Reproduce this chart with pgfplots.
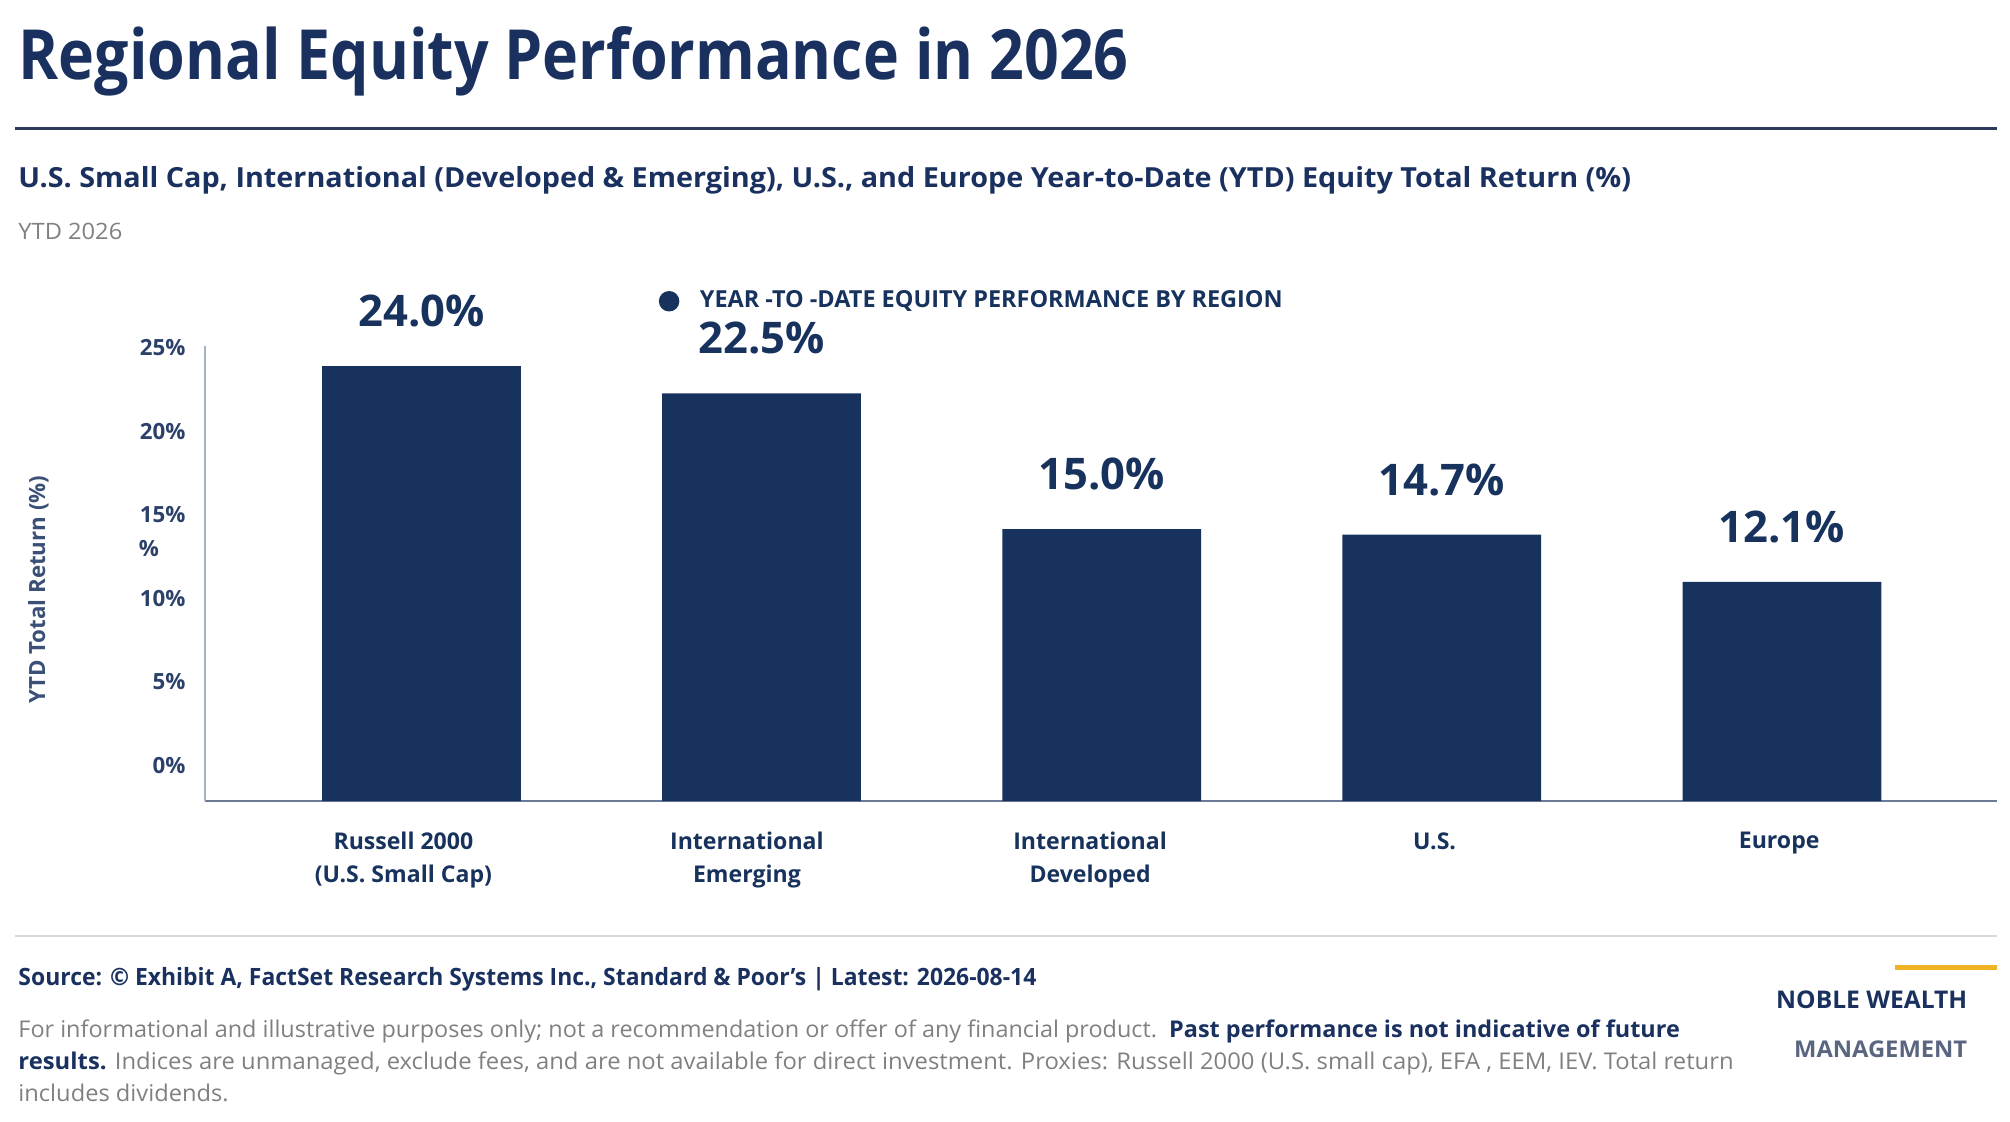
\documentclass[border=0pt]{standalone}
\usepackage{pgfplots}
\pgfplotsset{compat=1.18}
\usepackage{fontspec}
\usepackage{graphicx}
\setmainfont{Open Sans}
\definecolor{navy}{HTML}{17325C}
\definecolor{titlec}{HTML}{1A3160}
\definecolor{ticklab}{HTML}{2C416A}
\definecolor{ylabc}{HTML}{3A5077}
\definecolor{axisx}{HTML}{6B7A95}
\definecolor{axisy}{HTML}{A5B0C2}
\definecolor{grayt}{HTML}{808080}
\definecolor{rulec}{HTML}{2B3A5A}
\definecolor{footrule}{HTML}{D6D9DF}
\definecolor{gold}{HTML}{F0B323}
\definecolor{mgmt}{HTML}{5A6680}
\begin{document}
\begin{tikzpicture}
\path[use as bounding box] (0,0) rectangle (784pt,437.5pt);
\begin{axis}[
  at={(80pt,125pt)}, anchor=south west,
  scale only axis, width=699pt, height=177.5pt,
  xmin=-0.636, xmax=4.633, ymin=0, ymax=25.1,
  clip=false,
  axis x line*=bottom, axis y line*=left,
  x axis line style={-, draw=axisx, line width=1pt},
  y axis line style={-, draw=axisy, line width=1pt},
  major tick length=0pt,
  /pgf/number format/assume math mode=true,
  ytick={1.98,6.58,11.18,15.79,20.39,25.0},
  yticklabels={0\%,5\%,10\%,15\%,20\%,25\%},
  yticklabel style={anchor=east, inner sep=0pt, xshift=-7.5pt, font=\bfseries\fontsize{8.7}{10}\selectfont, text=ticklab},
  xtick={-0.053,0.957,1.966,2.979,3.992},
  xticklabels={{Russell 2000\\(U.S. Small Cap)},{International\\Emerging},{International\\Developed},{U.S.},{Europe}},
  xticklabel style={anchor=north, align=center, inner sep=0pt, yshift=-12pt, font=\bfseries\fontsize{9}{12.5}\selectfont, text=navy},
  ylabel={YTD Total Return (\%)},
  ylabel style={at={(axis description cs:-0.093,0.465)}, anchor=center, font=\bfseries\fontsize{8.7}{10}\selectfont, text=ylabc},
  bar width=77.5pt,
  nodes near coords={\pgfmathprintnumber[fixed,fixed zerofill,precision=1]{\pgfplotspointmeta}\%},
  nodes near coords style={anchor=center, yshift=21.5pt, font=\bfseries\fontsize{17}{20}\selectfont, text=navy},
  legend style={at={(rel axis cs:0.2532,1.0986)}, anchor=west, draw=none, fill=none, inner sep=0pt, outer sep=0pt,
     nodes={inner sep=0pt}, font=\bfseries\fontsize{9.15}{11}\selectfont, text=navy,
     /tikz/every odd column/.append style={column sep=8pt}},
  legend image code/.code={\fill[navy] (4pt,0pt) circle (4pt);},
]
\addplot[ybar, fill=navy, draw=none] coordinates {(0,24.0) (1,22.5) (2,15.0) (3,14.7) (4,12.1)};
\addlegendentry{YEAR -TO -DATE EQUITY PERFORMANCE BY REGION}
\end{axis}
\begin{scope}[x=0.5pt,y=-0.5pt,yshift=437.5pt]
\node[anchor=base west, inner sep=0pt, text=titlec] at (14,62) {\resizebox{433pt}{\height}{\bfseries\fontsize{27}{30}\selectfont Regional Equity Performance in 2026}};
\draw[rulec, line width=1.1pt] (12,100) -- (1558,100);
\node[anchor=base west, inner sep=0pt, text=titlec] at (14,146) {\resizebox{629pt}{\height}{\bfseries\fontsize{10.8}{12}\selectfont U.S. Small Cap, International (Developed \& Emerging), U.S., and Europe Year-to-Date (YTD) Equity Total Return (\%)}};
\node[anchor=base west, inner sep=0pt, text=grayt] at (14,187) {\resizebox{40.5pt}{\height}{\fontsize{8.8}{10}\selectfont YTD 2026}};
\node[anchor=west, inner sep=0pt, text=ticklab] at (108,428) {\bfseries\fontsize{8.7}{10}\selectfont \%};
\draw[footrule, line width=1pt] (12,730) -- (1558,730);
\node[anchor=base west, inner sep=0pt, text=titlec] at (14,769) {\resizebox{397pt}{\height}{\bfseries\fontsize{9.3}{11}\selectfont Source: © Exhibit A, FactSet Research Systems Inc., Standard \& Poor's | Latest: 2026-08-14}};
\node[anchor=base west, inner sep=0pt] at (14,809) {\resizebox{648pt}{\height}{\fontsize{9}{11}\selectfont\color{grayt}For informational and illustrative purposes only; not a recommendation or offer of any financial product.\ \ \color{titlec}\bfseries Past performance is not indicative of future}};
\node[anchor=base west, inner sep=0pt] at (14,834) {\resizebox{669pt}{\height}{\fontsize{9}{11}\selectfont{\color{titlec}\bfseries results.} \color{grayt}Indices are unmanaged, exclude fees, and are not available for direct investment. Proxies: Russell 2000 (U.S. small cap), EFA , EEM, IEV. Total return}};
\node[anchor=base west, inner sep=0pt, text=grayt] at (14,859) {\resizebox{82pt}{\height}{\fontsize{9}{11}\selectfont includes dividends.}};
\draw[gold, line width=2pt] (1478,755) -- (1558,755);
\node[anchor=base east, inner sep=0pt, text=titlec] at (1535,787) {\resizebox{74.5pt}{\height}{\bfseries\fontsize{9.5}{11}\selectfont NOBLE WEALTH}};
\node[anchor=base east, inner sep=0pt, text=mgmt] at (1535,825) {\resizebox{67.5pt}{\height}{\bfseries\fontsize{9}{11}\selectfont MANAGEMENT}};
\end{scope}
\end{tikzpicture}
\end{document}
